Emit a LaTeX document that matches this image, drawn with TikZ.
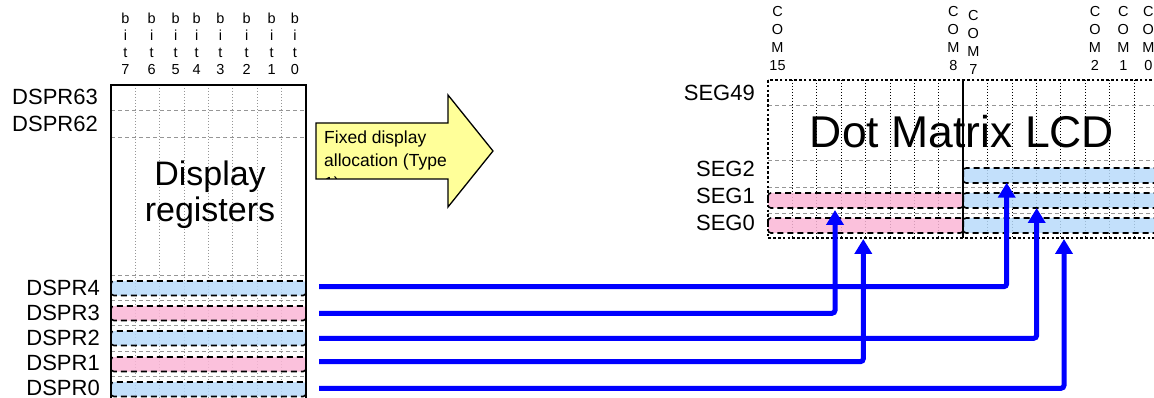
\documentclass[tikz,border=0pt]{standalone}
\usepackage{fontspec}
\setmainfont{Liberation Sans}
\usetikzlibrary{arrows.meta}
\definecolor{pinkband}{RGB}{250,182,214}
\definecolor{blueband}{RGB}{184,218,250}
\definecolor{arrowyellow}{RGB}{255,255,153}
\definecolor{gridgray}{RGB}{150,150,150}
\definecolor{linkblue}{RGB}{0,0,255}
\begin{document}
\begin{tikzpicture}[x=1pt,y=-1pt,
 lbl/.style={font=\fontsize{22}{22}\selectfont, anchor=base east, inner sep=0pt},
 tinylbl/.style={font=\fontsize{14.5}{14.5}\selectfont, anchor=base, inner sep=0pt},
 graydash/.style={gridgray, line width=0.9pt, dash pattern=on 4pt off 3pt},
 graydot/.style={gridgray, line width=0.8pt, dash pattern=on 1.2pt off 1.8pt},
 blackdot/.style={black, line width=0.9pt, dash pattern=on 1.2pt off 1.8pt},
 band/.style={draw=black, line width=1.6pt, dash pattern=on 6pt off 4pt, rounded corners=3pt, fill opacity=0.85},
 link/.style={linkblue, line width=5pt, rounded corners=3pt, -{Triangle[width=17pt,length=15pt]}},
]
\useasboundingbox (0,0) rectangle (1154,398);
\clip (0,0) rectangle (1154,398);

% ---------- display registers ----------
\foreach \x in {1,...,7} \draw[graydot] ({111+\x*24.375},85) -- ({111+\x*24.375},400);
\foreach \y in {110,137,275,300,325,351,376} \draw[graydash] (111,\y) -- (306,\y);
\foreach \y/\c in {281/blueband,306/pinkband,331/blueband,357/pinkband,382/blueband}
  \draw[band, fill=\c] (111,\y) rectangle (306,{\y+14.5});
\draw[line width=1.8pt] (111,400) -- (111,85) -- (306,85) -- (306,400);

\node[font=\fontsize{34}{34}\selectfont, anchor=base, inner sep=0pt] (disp) at (210,186) {Display};
\node[font=\fontsize{34}{34}\selectfont, anchor=base, inner sep=0pt] (regs) at (210,222) {registers};

\foreach \x/\d [count=\i] in {125.5/7,151.7/6,175.7/5,196.7/4,220.5/3,246.7/2,271.7/1,295/0} {
  \node[tinylbl] (b\i) at (\x,23.5) {b};
  \node[tinylbl] (i\i) at (\x,40.5) {i};
  \node[tinylbl] (t\i) at (\x,58) {t};
  \node[tinylbl] (n\i) at (\x,75) {\d};
}

\node[lbl] (r63) at (98,105) {DSPR63};
\node[lbl] (r62) at (98,132) {DSPR62};
\node[lbl] (r4) at (100,295) {DSPR4};
\node[lbl] (r3) at (100,320) {DSPR3};
\node[lbl] (r2) at (100,345) {DSPR2};
\node[lbl] (r1) at (100,370.5) {DSPR1};
\node[lbl] (r0) at (100,395.3) {DSPR0};

% ---------- block arrow ----------
\draw[fill=arrowyellow, line width=1.3pt] (316,123) -- (448,123) -- (448,95) -- (493,151) -- (448,207) -- (448,179) -- (316,179) -- cycle;
\begin{scope}
  \clip (316.7,123.7) rectangle (447.3,178.3);
  \node[anchor=north west, align=left, inner sep=0pt, font=\fontsize{17.5}{23}\selectfont] (alloc) at (324,130.5) {Fixed display\\allocation (Type\\1)};
\end{scope}

% ---------- LCD ----------
\foreach \x in {1,...,7,9,10,...,15} \draw[blackdot] ({768+\x*24.4},80) -- ({768+\x*24.4},238);
\foreach \y in {105,160,187,213} \draw[graydash] (768,\y) -- (1160,\y);

\node[font=\fontsize{44.5}{44.5}\selectfont, anchor=base, inner sep=0pt] (lcd) at (962,148) {Dot Matrix LCD};

% blue connectors
\coordinate (s4) at (319,286.7); \coordinate (e4) at (1006.7,182.7);
\coordinate (s3) at (319,313.3); \coordinate (e3) at (835,210);
\coordinate (s2) at (319,338.3); \coordinate (e2) at (1036.7,208);
\coordinate (s1) at (319,361.7); \coordinate (e1) at (863.3,239);
\coordinate (s0) at (319,388.3); \coordinate (e0) at (1064,239);

\foreach \y in {193,218} \draw[band, fill=pinkband] (768,\y) rectangle (963.2,{\y+15});
\foreach \y in {168,193,218} \draw[band, fill=blueband] (963.2,\y) rectangle (1165,{\y+15});

\draw[line width=1.8pt] (963.2,80) -- (963.2,238);
\draw[line width=2.8pt, dash pattern=on 2.6pt off 2.2pt] (768,80) rectangle (1162,238);

\draw[link] (s4) -| (e4);
\draw[link] (s3) -| (e3);
\draw[link] (s2) -| (e2);
\draw[link] (s1) -| (e1);
\draw[link] (s0) -| (e0);

\node[lbl] (g49) at (755,101) {SEG49};
\node[lbl] (g2) at (755,177) {SEG2};
\node[lbl] (g1) at (755,204) {SEG1};
\node[lbl] (g0) at (755,230) {SEG0};

\foreach \x/\d/\dy [count=\i] in {777.5/15/0,953.3/8/0,973.3/7/3.5,1095/2/0,1123.3/1/0,1148.3/0/0} {
  \node[tinylbl] (c\i) at (\x,{17+\dy}) {C};
  \node[tinylbl] (o\i) at (\x,{35+\dy}) {O};
  \node[tinylbl] (m\i) at (\x,{53+\dy}) {M};
  \node[tinylbl] (k\i) at (\x,{71+\dy}) {\d};
}
\end{tikzpicture}
\end{document}
